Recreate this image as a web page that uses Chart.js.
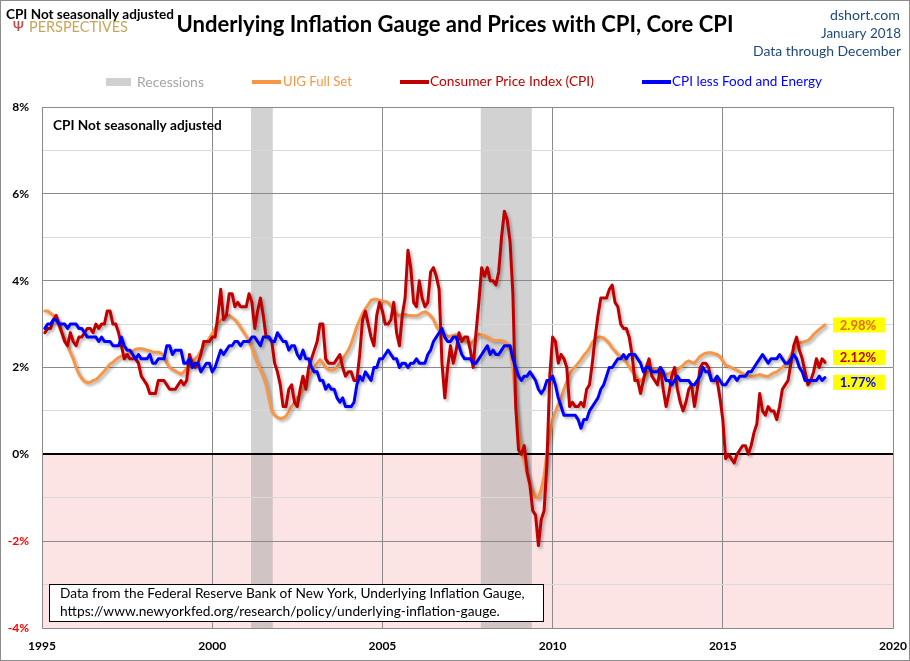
<!DOCTYPE html>
<html>
<head>
<meta charset="utf-8">
<title>Underlying Inflation Gauge and Prices with CPI, Core CPI</title>
<script src="https://cdn.jsdelivr.net/npm/chart.js@4.4.1/dist/chart.umd.min.js"></script>
<style>
  html, body { margin: 0; padding: 0; background: #fff; }
  #wrap { width: 910px; height: 661px; }
</style>
</head>
<body>
<div id="wrap"><canvas id="chart" width="910" height="661"></canvas></div>
<script>
// monthly year-over-year values, Jan 1995 .. Dec 2017
const startYear = 1995;
const xTicks = [1995, 2000, 2005, 2010, 2015, 2020];
const recessions = [[2001.14, 2001.78], [2007.89, 2009.39]];

const uigFull = [
  3.30, 3.30, 3.25, 3.20, 3.10, 2.95, 2.80, 2.65, 2.50, 2.35, 2.20, 2.00,
  1.85, 1.75, 1.68, 1.65, 1.66, 1.70, 1.72, 1.78, 1.85, 1.92, 2.00, 2.08,
  2.12, 2.18, 2.23, 2.26, 2.28, 2.30, 2.33, 2.38, 2.42, 2.43, 2.43, 2.42,
  2.40, 2.38, 2.36, 2.35, 2.35, 2.33, 2.25, 2.10, 2.00, 1.95, 1.92, 1.88,
  1.85, 1.90, 1.98, 2.04, 2.12, 2.20, 2.27, 2.38, 2.48, 2.58, 2.68, 2.78,
  2.90, 3.00, 3.08, 3.14, 3.20, 3.20, 3.15, 3.10, 3.02, 2.92, 2.82, 2.72,
  2.60, 2.45, 2.25, 2.10, 1.95, 1.80, 1.60, 1.30, 1.00, 0.90, 0.85, 0.82,
  0.84, 0.88, 0.98, 1.10, 1.20, 1.30, 1.36, 1.50, 1.65, 1.80, 1.90, 2.00,
  2.10, 2.18, 2.10, 2.00, 1.95, 1.95, 1.95, 2.00, 2.10, 2.20, 2.30, 2.40,
  2.55, 2.75, 2.95, 3.10, 3.25, 3.35, 3.45, 3.55, 3.57, 3.57, 3.55, 3.53,
  3.52, 3.50, 3.42, 3.30, 3.22, 3.20, 3.22, 3.22, 3.20, 3.20, 3.19, 3.19,
  3.22, 3.26, 3.28, 3.25, 3.19, 3.10, 2.95, 2.85, 2.80, 2.76, 2.72, 2.72,
  2.74, 2.76, 2.72, 2.66, 2.62, 2.58, 2.55, 2.60, 2.72, 2.77, 2.75, 2.73,
  2.70, 2.66, 2.62, 2.62, 2.62, 2.62, 2.60, 2.55, 2.40, 2.00, 1.20, 0.50,
  0.15, -0.15, -0.45, -0.70, -0.85, -0.98, -1.00, -0.80, -0.50, 0.04, 0.45, 0.80,
  0.98, 1.15, 1.30, 1.50, 1.68, 1.85, 1.95, 2.02, 2.10, 2.18, 2.28, 2.35,
  2.45, 2.58, 2.65, 2.70, 2.70, 2.68, 2.62, 2.55, 2.45, 2.38, 2.30, 2.25,
  2.20, 2.12, 2.02, 1.92, 1.82, 1.74, 1.70, 1.75, 1.85, 1.95, 1.97, 1.96,
  1.95, 1.90, 1.86, 1.84, 1.86, 1.90, 1.92, 1.96, 2.00, 2.05, 2.12, 2.15,
  2.12, 2.10, 2.18, 2.26, 2.30, 2.33, 2.34, 2.34, 2.32, 2.30, 2.25, 2.15,
  2.05, 2.03, 2.00, 1.97, 1.94, 1.90, 1.86, 1.84, 1.82, 1.80, 1.80, 1.82,
  1.84, 1.82, 1.80, 1.80, 1.84, 1.88, 1.90, 1.95, 2.00, 2.07, 2.15, 2.30,
  2.40, 2.50, 2.57, 2.58, 2.60, 2.62, 2.68, 2.76, 2.82, 2.88, 2.93, 2.98
];

const cpi = [
  2.8, 2.9, 2.9, 3.1, 3.2, 3.0, 2.8, 2.6, 2.5, 2.8, 2.6, 2.5,
  2.7, 2.7, 2.8, 2.9, 2.9, 2.8, 3.0, 2.9, 3.0, 3.0, 3.3, 3.3,
  3.0, 3.0, 2.8, 2.5, 2.2, 2.3, 2.2, 2.2, 2.2, 2.1, 1.8, 1.7,
  1.6, 1.4, 1.4, 1.4, 1.7, 1.7, 1.7, 1.6, 1.5, 1.5, 1.5, 1.6,
  1.7, 1.6, 1.7, 2.3, 2.1, 2.0, 2.1, 2.3, 2.6, 2.6, 2.6, 2.7,
  2.7, 3.2, 3.8, 3.1, 3.2, 3.7, 3.7, 3.4, 3.5, 3.4, 3.4, 3.4,
  3.7, 3.5, 2.9, 3.3, 3.6, 3.2, 2.7, 2.7, 2.6, 2.1, 1.9, 1.6,
  1.1, 1.1, 1.5, 1.6, 1.2, 1.1, 1.5, 1.8, 1.5, 2.0, 2.2, 2.4,
  2.6, 3.0, 3.0, 2.2, 2.1, 2.1, 2.1, 2.2, 2.3, 2.0, 1.8, 1.9,
  1.9, 1.7, 1.7, 2.3, 3.1, 3.3, 3.0, 2.7, 2.5, 3.2, 3.5, 3.3,
  3.0, 3.0, 3.1, 3.5, 2.8, 2.5, 3.2, 3.6, 4.7, 4.3, 3.5, 3.4,
  4.0, 3.6, 3.4, 3.5, 4.2, 4.3, 4.1, 3.8, 2.1, 1.3, 2.0, 2.5,
  2.1, 2.4, 2.8, 2.6, 2.7, 2.7, 2.4, 2.0, 2.8, 3.5, 4.3, 4.1,
  4.3, 4.0, 4.0, 3.9, 4.2, 5.0, 5.6, 5.4, 4.9, 3.7, 1.1, 0.1,
  0.0, 0.2, -0.4, -0.7, -1.3, -1.4, -2.1, -1.5, -1.3, -0.2, 1.8, 2.7,
  2.6, 2.1, 2.3, 2.2, 2.0, 1.1, 1.2, 1.1, 1.1, 1.2, 1.1, 1.5,
  1.6, 2.1, 2.7, 3.2, 3.6, 3.6, 3.6, 3.8, 3.9, 3.5, 3.4, 3.0,
  2.9, 2.9, 2.7, 2.3, 1.7, 1.7, 1.4, 1.7, 2.0, 2.2, 1.8, 1.7,
  1.6, 2.0, 1.5, 1.1, 1.4, 1.8, 2.0, 1.5, 1.2, 1.0, 1.2, 1.5,
  1.6, 1.1, 1.5, 2.0, 2.1, 2.1, 2.0, 1.7, 1.7, 1.7, 1.3, 0.8,
  -0.1, 0.0, -0.1, -0.2, 0.0, 0.1, 0.2, 0.2, 0.0, 0.2, 0.5, 0.7,
  1.4, 1.0, 0.9, 1.1, 1.0, 1.0, 0.8, 1.1, 1.5, 1.6, 1.7, 2.1,
  2.5, 2.7, 2.4, 2.2, 1.9, 1.6, 1.7, 1.9, 2.2, 2.0, 2.2, 2.12
];

const coreCpi = [
  2.9, 3.0, 3.0, 3.1, 3.1, 3.0, 3.0, 3.0, 2.9, 3.0, 3.0, 3.0,
  2.9, 2.9, 2.8, 2.7, 2.7, 2.7, 2.7, 2.6, 2.7, 2.6, 2.6, 2.6,
  2.5, 2.5, 2.5, 2.7, 2.5, 2.4, 2.4, 2.3, 2.2, 2.3, 2.2, 2.2,
  2.2, 2.3, 2.1, 2.1, 2.2, 2.2, 2.2, 2.5, 2.5, 2.3, 2.4, 2.4,
  2.4, 2.1, 2.1, 2.2, 2.0, 2.1, 2.1, 1.9, 2.0, 2.1, 2.1, 1.9,
  2.0, 2.2, 2.4, 2.3, 2.4, 2.5, 2.5, 2.6, 2.6, 2.5, 2.6, 2.6,
  2.6, 2.7, 2.7, 2.6, 2.5, 2.7, 2.7, 2.7, 2.6, 2.6, 2.8, 2.7,
  2.6, 2.6, 2.4, 2.5, 2.5, 2.3, 2.2, 2.4, 2.2, 2.2, 2.0, 1.9,
  1.9, 1.7, 1.7, 1.5, 1.6, 1.5, 1.5, 1.3, 1.2, 1.3, 1.1, 1.1,
  1.1, 1.2, 1.6, 1.8, 1.7, 1.9, 1.8, 1.7, 2.0, 2.0, 2.2, 2.2,
  2.3, 2.4, 2.3, 2.2, 2.2, 2.0, 2.1, 2.1, 2.0, 2.1, 2.1, 2.2,
  2.1, 2.1, 2.1, 2.3, 2.4, 2.6, 2.7, 2.8, 2.9, 2.7, 2.6, 2.6,
  2.7, 2.7, 2.5, 2.3, 2.2, 2.2, 2.2, 2.1, 2.1, 2.2, 2.3, 2.4,
  2.5, 2.3, 2.4, 2.3, 2.3, 2.4, 2.5, 2.5, 2.5, 2.2, 2.0, 1.8,
  1.7, 1.8, 1.8, 1.9, 1.8, 1.7, 1.5, 1.4, 1.5, 1.7, 1.7, 1.8,
  1.6, 1.3, 1.1, 0.9, 0.9, 0.9, 0.9, 0.9, 0.8, 0.6, 0.8, 0.8,
  1.0, 1.1, 1.2, 1.3, 1.5, 1.6, 1.8, 2.0, 2.0, 2.1, 2.2, 2.2,
  2.3, 2.2, 2.3, 2.3, 2.3, 2.2, 2.1, 1.9, 2.0, 2.0, 1.9, 1.9,
  1.9, 2.0, 1.9, 1.7, 1.7, 1.6, 1.7, 1.8, 1.7, 1.7, 1.7, 1.7,
  1.6, 1.6, 1.7, 1.8, 2.0, 1.9, 1.9, 1.7, 1.7, 1.8, 1.7, 1.6,
  1.6, 1.7, 1.8, 1.8, 1.7, 1.8, 1.8, 1.8, 1.9, 1.9, 2.0, 2.1,
  2.2, 2.3, 2.2, 2.1, 2.2, 2.2, 2.2, 2.3, 2.2, 2.1, 2.1, 2.2,
  2.3, 2.2, 2.0, 1.9, 1.7, 1.7, 1.7, 1.7, 1.7, 1.8, 1.7, 1.77
];

const FONT = 'Lato, "Open Sans", sans-serif';
const toPoints = vals => vals.map((v, i) => ({ x: startYear + (i + 1) / 12, y: v }));

// draw text stretched to the width it has in the original
function fitText(ctx, text, x, y, width, weight, color, align) {
    ctx.font = `${weight} 20px ${FONT}`;
    const size = 20 * width / ctx.measureText(text).width;
    ctx.font = `${weight} ${size.toFixed(2)}px ${FONT}`;
    ctx.fillStyle = color;
    ctx.textAlign = align || 'left';
    ctx.textBaseline = 'middle';
    ctx.fillText(text, x, y);
}

const backdrop = {
    id: 'backdrop',
    beforeDraw(chart) {
        const { ctx, chartArea: a, scales: { x, y } } = chart;
        ctx.save();
        ctx.fillStyle = '#ffffff';
        ctx.fillRect(0, 0, chart.width, chart.height);
        // below-zero shading
        const y0 = y.getPixelForValue(0);
        ctx.fillStyle = '#fde4e4';
        ctx.fillRect(a.left, y0, a.right - a.left, a.bottom - y0);
        // recession bands
        ctx.fillStyle = 'rgba(160, 160, 160, 0.48)';
        recessions.forEach(([s, e]) => {
            const x1 = x.getPixelForValue(s);
            const x2 = x.getPixelForValue(e);
            ctx.fillRect(x1, a.top, x2 - x1, a.bottom - a.top);
        });
        ctx.restore();
    }
};

const shadow = {
    id: 'shadow',
    beforeDatasetDraw(chart) {
        const ctx = chart.ctx;
        ctx.save();
        ctx.shadowColor = 'rgba(0, 0, 0, 0.3)';
        ctx.shadowBlur = 3;
        ctx.shadowOffsetX = 2;
        ctx.shadowOffsetY = 2;
    },
    afterDatasetDraw(chart) {
        chart.ctx.restore();
    }
};

const decorations = {
    id: 'decorations',
    afterDraw(chart) {
        const { ctx, scales: { y } } = chart;
        ctx.save();

        // logo and corner label
        ctx.font = `bold 13px ${FONT}`;
        ctx.fillStyle = '#c0504d';
        ctx.textAlign = 'left';
        ctx.textBaseline = 'middle';
        ctx.fillText('Ψ', 13, 27);
        fitText(ctx, 'PERSPECTIVES', 29, 27, 99, 'normal', '#c9a55a');
        fitText(ctx, 'CPI Not seasonally adjusted', 6, 15, 168, 'bold', '#000');

        // title
        fitText(ctx, 'Underlying Inflation Gauge and Prices with CPI, Core CPI', 455, 25, 557, 'bold', '#000', 'center');

        // right header
        fitText(ctx, 'dshort.com', 900, 15, 70, 'normal', '#1f497d', 'right');
        fitText(ctx, 'January 2018', 901, 34, 80, 'normal', '#1f497d', 'right');
        fitText(ctx, 'Data through December', 901, 51, 148, 'normal', '#1f497d', 'right');

        // legend
        const ly = 82;
        ctx.fillStyle = '#d0d0d0';
        ctx.fillRect(106, ly - 4, 25, 8);
        fitText(ctx, 'Recessions', 137, ly, 67, 'normal', '#a5a5a5');
        const samples = [
            [252, 281, '#f79646', 'UIG Full Set', 283, 69],
            [400, 429, '#c00000', 'Consumer Price Index (CPI)', 430, 164],
            [642, 671, '#0000ff', 'CPI less Food and Energy', 672, 150]
        ];
        samples.forEach(([x1, x2, col, txt, tx, tw]) => {
            ctx.strokeStyle = col;
            ctx.lineWidth = 4;
            ctx.beginPath();
            ctx.moveTo(x1, ly);
            ctx.lineTo(x2, ly);
            ctx.stroke();
            fitText(ctx, txt, tx, ly, tw, 'normal', col);
        });

        // label inside plot
        fitText(ctx, 'CPI Not seasonally adjusted', 53, 126, 169, 'bold', '#000');

        // source box
        ctx.fillStyle = '#ffffff';
        ctx.fillRect(49, 584, 494, 37);
        ctx.strokeStyle = '#000';
        ctx.lineWidth = 1;
        ctx.strokeRect(49.5, 584.5, 494, 37);
        fitText(ctx, 'Data from the Federal Reserve Bank of New York, Underlying Inflation Gauge,', 60, 594, 465, 'normal', '#000');
        fitText(ctx, 'https://www.newyorkfed.org/research/policy/underlying-inflation-gauge.', 60, 612, 440, 'normal', '#000');

        // end-of-series value labels
        const ends = [
            { v: uigFull[uigFull.length - 1], col: '#e46c0a' },
            { v: cpi[cpi.length - 1], col: '#c00000' },
            { v: coreCpi[coreCpi.length - 1], col: '#0000ff' }
        ];
        ends.forEach(e => { e.py = y.getPixelForValue(e.v); });
        ends.sort((a, b) => a.py - b.py);
        const gap = 25;
        for (let k = 0; k < 6; k++) {
            for (let i = 1; i < ends.length; i++) {
                const d = ends[i].py - ends[i - 1].py;
                if (d < gap) {
                    ends[i - 1].py -= (gap - d) / 2;
                    ends[i].py += (gap - d) / 2;
                }
            }
        }
        ends.forEach(e => {
            ctx.fillStyle = '#ffff00';
            ctx.fillRect(833, e.py - 7.5, 52, 15);
            ctx.font = `bold 13px ${FONT}`;
            ctx.fillStyle = e.col;
            ctx.textAlign = 'center';
            ctx.textBaseline = 'middle';
            ctx.fillText(e.v.toFixed(2) + '%', 858, e.py + 0.5);
        });

        // outer frame
        ctx.strokeStyle = '#8c8c8c';
        ctx.lineWidth = 1;
        ctx.strokeRect(0.5, 0.5, chart.width - 1, chart.height - 1);
        ctx.restore();
    }
};

const tickFont = { family: FONT, size: 12, weight: 'bold' };
const lineStyle = {
    borderWidth: 3,
    pointRadius: 0,
    borderJoinStyle: 'round',
    borderCapStyle: 'round'
};

new Chart(document.getElementById('chart'), {
    type: 'line',
    data: {
        datasets: [
            {
                label: 'CPI less Food and Energy',
                data: toPoints(coreCpi),
                borderColor: '#0000ff',
                order: 0,
                ...lineStyle
            },
            {
                label: 'Consumer Price Index (CPI)',
                data: toPoints(cpi),
                borderColor: '#c00000',
                order: 1,
                ...lineStyle
            },
            {
                label: 'UIG Full Set',
                data: toPoints(uigFull),
                borderColor: '#f79646',
                order: 2,
                ...lineStyle
            }
        ]
    },
    options: {
        responsive: false,
        animation: false,
        devicePixelRatio: 1,
        layout: { padding: { top: 107, right: 17, bottom: 0, left: 0 } },
        plugins: {
            legend: { display: false },
            tooltip: { enabled: false }
        },
        scales: {
            x: {
                type: 'linear',
                min: 1995,
                max: 2020,
                afterBuildTicks: axis => { axis.ticks = xTicks.map(v => ({ value: v })); },
                afterFit: s => {
                    s.height = 33;
                    s.paddingLeft = 0;
                    s.paddingRight = 0;
                },
                ticks: {
                    font: tickFont,
                    color: '#000',
                    padding: 11,
                    maxRotation: 0,
                    callback: v => String(v)
                },
                grid: { color: '#8a8a8a', drawTicks: false },
                border: { color: '#8a8a8a' }
            },
            y: {
                min: -4,
                max: 8,
                afterFit: s => {
                    s.width = 42;
                    s.paddingTop = 0;
                    s.paddingBottom = 0;
                },
                ticks: {
                    stepSize: 1,
                    autoSkip: false,
                    font: tickFont,
                    padding: 13,
                    color: c => c.tick.value < 0 ? '#ff0000' : '#000',
                    callback: v => v % 2 === 0 ? v + '%' : ''
                },
                grid: {
                    drawTicks: false,
                    color: c => c.tick.value === 0 ? '#000' : (c.tick.value % 2 === 0 ? '#8a8a8a' : '#d9d9d9'),
                    lineWidth: c => c.tick.value === 0 ? 2 : 1
                },
                border: { color: '#8a8a8a' }
            }
        }
    },
    plugins: [backdrop, shadow, decorations]
});
</script>
</body>
</html>
